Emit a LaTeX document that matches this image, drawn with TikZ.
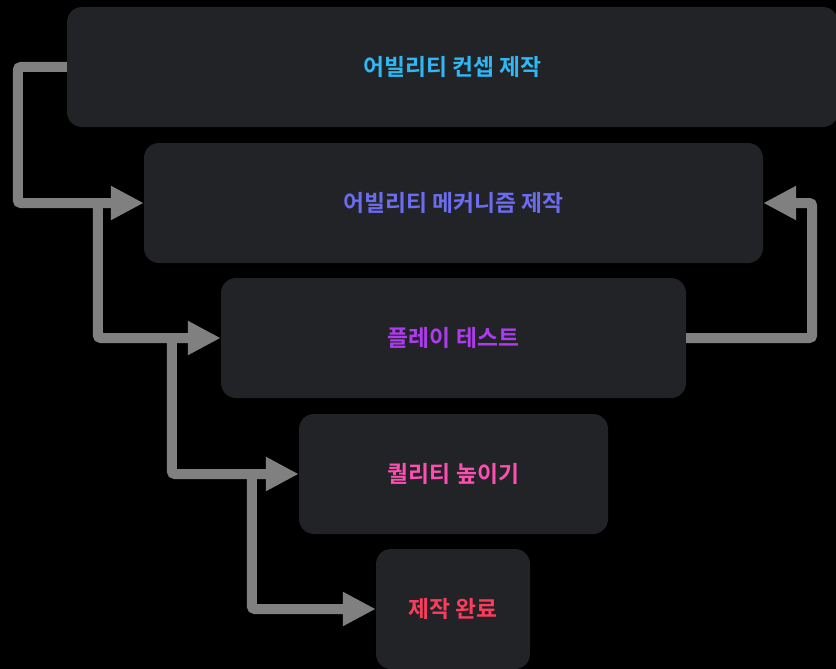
\documentclass[tikz,border=0pt]{standalone}
\usepackage{fontspec}
\newfontfamily\krfont{Noto Sans CJK KR}[BoldFont={Noto Sans CJK KR Bold}]
\usetikzlibrary{arrows.meta}
\definecolor{boxgray}{HTML}{222327}
\definecolor{flowgray}{HTML}{808080}
\definecolor{concept}{HTML}{2FB8F6}
\definecolor{mechanic}{HTML}{6C6CF0}
\definecolor{playtest}{HTML}{AE3CEE}
\definecolor{quality}{HTML}{FC4FB0}
\definecolor{done}{HTML}{FB3D5B}
\begin{document}
\begin{tikzpicture}[x=1pt,y=-1pt,
	stage/.style={rectangle,rounded corners=15pt,fill=boxgray,minimum height=120pt,inner sep=0pt,font=\krfont\bfseries\fontsize{22.8}{27}\selectfont},
	flow/.style={draw=flowgray,line width=10pt,rounded corners=3pt,-{Triangle[length=33pt,width=32pt]}}]
	\fill[black] (0,0) rectangle (836,669);
	\useasboundingbox (0,0) rectangle (836,669);

	\node [stage,minimum width=771pt,text=concept](A) at (452.5,67) {어빌리티 컨셉 제작};
	\node [stage,minimum width=619pt,text=mechanic](B) at (453.5,203) {어빌리티 메커니즘 제작};
	\node [stage,minimum width=465pt,text=playtest](C) at (453.5,338) {플레이 테스트};
	\node [stage,minimum width=309pt,text=quality](D) at (453.5,474) {퀄리티 높이기};
	\node [stage,minimum width=154pt,text=done](E) at (453,609) {제작 완료};

	\draw [flow] (A.west) -- ++(-49,0) |- (B.west);
	\draw [flow] ([xshift=-46pt]B.west) |- (C.west);
	\draw [flow] ([xshift=-49pt]C.west) |- (D.west);
	\draw [flow] ([xshift=-47pt]D.west) |- (E.west);
	\draw [flow] (C.east) -- ++(126,0) |- (B.east);
\end{tikzpicture}
\end{document}
